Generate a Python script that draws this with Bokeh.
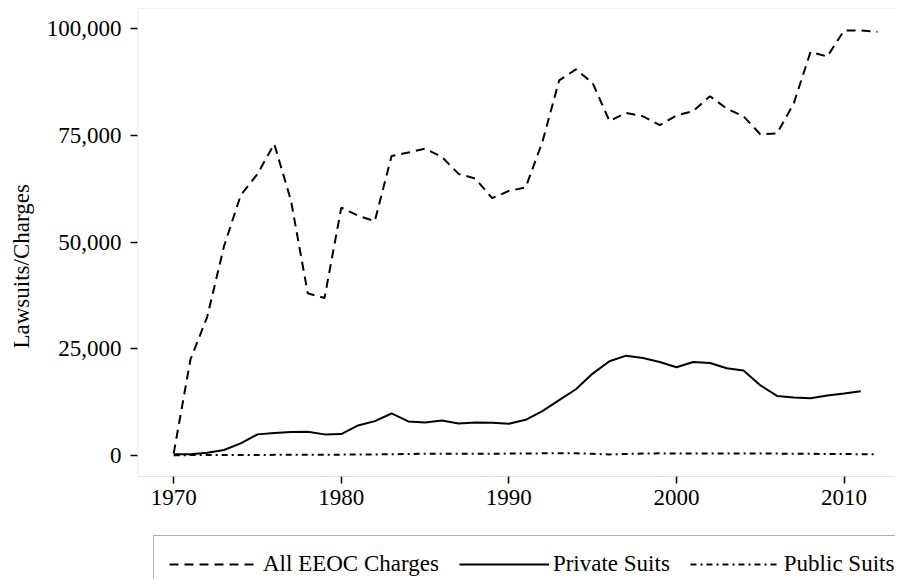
from bokeh.plotting import figure
from bokeh.models import (Range1d, Legend, LegendItem, NumeralTickFormatter, FixedTicker,
                          BoxAnnotation, Title)
from bokeh.embed import file_html
from bokeh.resources import INLINE

years = list(range(1970, 2013))
eeoc_charges = [500, 22500, 32500, 49000, 61000, 66000, 73000, 59700, 38000, 36900,
                58100, 56200, 54900, 70200, 71000, 71900, 70000, 66000, 64900, 60300,
                62000, 62800, 73500, 87900, 90500, 87300, 78400, 80300, 79500, 77400,
                79700, 80700, 84200, 81300, 79500, 75300, 75500, 82500, 94600, 93500,
                99600, 99600, 99300]
private_years = list(range(1970, 2012))
private_suits = [300, 300, 650, 1280, 2840, 4950, 5260, 5490, 5570, 4950,
                 5020, 7050, 8060, 9850, 7990, 7750, 8220, 7520, 7750, 7670,
                 7440, 8370, 10400, 12960, 15530, 19200, 22080, 23400, 22850, 21910,
                 20670, 21910, 21680, 20440, 19900, 16470, 13970, 13600, 13430, 14060,
                 14530, 15070]
public_suits = [50, 100, 100, 100, 100, 100, 150, 150, 200, 200,
                200, 250, 250, 300, 350, 400, 400, 400, 400, 400,
                450, 450, 500, 500, 500, 400, 250, 350, 450, 500,
                450, 450, 450, 450, 450, 450, 450, 400, 400, 350,
                350, 300, 300]
x_ticks = [1970, 1980, 1990, 2000, 2010]
y_ticks = [0, 25000, 50000, 75000, 100000]
labels = ["All EEOC Charges", "Private Suits", "Public Suits"]

FONT = "Liberation Serif"

X0, X1 = 1967.84, 2013.07
Y_TOP = 104758          # top of plotting area
Y_AXIS = -4921          # where the x axis sits
Y_CANVAS_BOTTOM = -29061  # lower end of frame, leaves room for the legend

p = figure(width=895, height=579, output_backend="svg", toolbar_location=None,
           x_range=Range1d(X0, X1), y_range=Range1d(Y_CANVAS_BOTTOM, Y_TOP),
           min_border_left=134, min_border_right=0, min_border_top=8, min_border_bottom=0)
p.background_fill_color = "white"
p.border_fill_color = "white"
p.outline_line_color = None
p.xgrid.visible = False
p.ygrid.visible = False

# plot region border (top, left, bottom)
p.add_layout(BoxAnnotation(left=X0, right=X1 + 1, bottom=Y_AXIS, top=Y_TOP,
                           fill_alpha=0, line_color="#a0a0a0", line_width=1.2))

r1 = p.line(years, eeoc_charges, line_color="black", line_width=2, line_dash="9 6")
r2 = p.line(private_years, private_suits, line_color="black", line_width=2)
r3 = p.line(years, public_suits, line_color="black", line_width=2, line_dash="6 4 2 4")

for ax in (p.xaxis[0], p.yaxis[0]):
    ax.axis_line_color = None
    ax.major_tick_line_color = "black"
    ax.major_tick_line_width = 1.5
    ax.major_tick_in = 0
    ax.major_tick_out = 7
    ax.minor_tick_line_color = None
    ax.major_label_text_font = FONT
    ax.major_label_text_font_size = "23px"
    ax.major_label_text_color = "black"

p.xaxis.fixed_location = Y_AXIS
p.xaxis.ticker = FixedTicker(ticks=x_ticks)
p.yaxis.ticker = FixedTicker(ticks=y_ticks)
p.yaxis.formatter = NumeralTickFormatter(format="0,0")
p.yaxis.major_label_orientation = "horizontal"
p.xaxis.major_label_standoff = 7
p.yaxis.major_label_standoff = 9

ytitle = Title(text="Lawsuits/Charges", align="left", offset=231, standoff=16,
               vertical_align="top",
               text_font=FONT, text_font_size="23px", text_font_style="normal",
               text_color="black")
p.add_layout(ytitle, "left")

legend = Legend(items=[LegendItem(label=labels[0], renderers=[r1]),
                       LegendItem(label=labels[1], renderers=[r2]),
                       LegendItem(label=labels[2], renderers=[r3])],
                orientation="horizontal", location=(16, -14))
legend.label_text_font = FONT
legend.label_text_font_size = "23px"
legend.label_text_color = "black"
legend.glyph_width = 90
legend.glyph_height = 20
legend.label_standoff = 4
legend.spacing = 20
legend.padding = 15
legend.margin = 0
legend.border_line_color = "#666666"
legend.border_line_width = 1.5
legend.background_fill_color = "white"
legend.background_fill_alpha = 1
p.add_layout(legend)

open("out.html", "w").write(file_html(p, INLINE))
